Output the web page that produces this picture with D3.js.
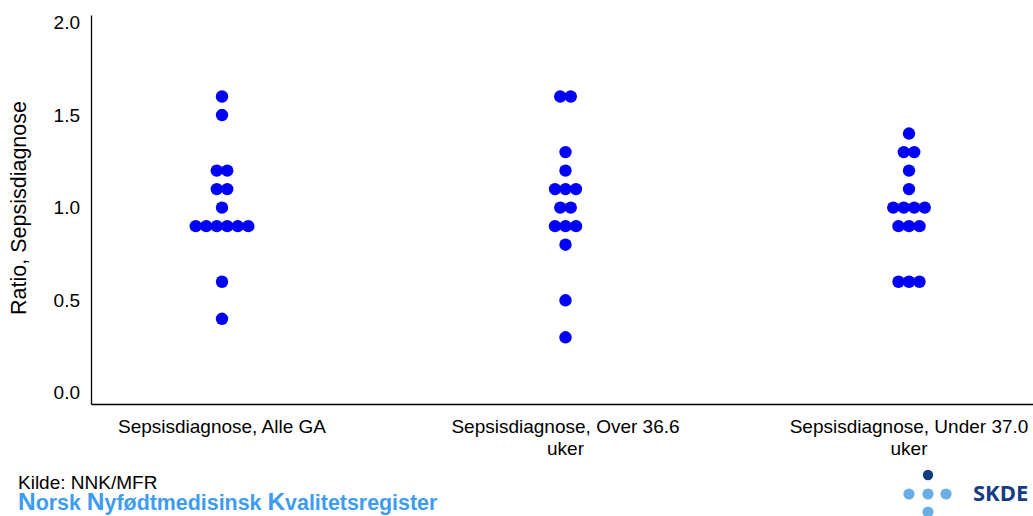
<!DOCTYPE html>
<html>
<head>
<meta charset="utf-8">
<script src="https://cdn.jsdelivr.net/npm/d3@7"></script>
<style>
  html, body { margin: 0; padding: 0; background: #fff; }
  svg { display: block; font-family: Arial, "Liberation Sans", sans-serif; }
</style>
</head>
<body>
<svg id="chart" width="1033" height="516"></svg>
<script>
// Categories (each label is split into lines for the axis)
const categories = ["Sepsisdiagnose, Alle GA", "Sepsisdiagnose, Over 36.6 uker", "Sepsisdiagnose, Under 37.0 uker"];
const categoryLines = [["Sepsisdiagnose, Alle GA"], ["Sepsisdiagnose, Over 36.6", "uker"], ["Sepsisdiagnose, Under 37.0", "uker"]];

// Ratio per unit, one list per category
const alleGA = [1.6, 1.5, 1.2, 1.2, 1.1, 1.1, 1.0, 0.9, 0.9, 0.9, 0.9, 0.9, 0.9, 0.6, 0.4];
const over366 = [1.6, 1.6, 1.3, 1.2, 1.1, 1.1, 1.1, 1.0, 1.0, 0.9, 0.9, 0.9, 0.8, 0.5, 0.3];
const under370 = [1.4, 1.3, 1.3, 1.2, 1.1, 1.0, 1.0, 1.0, 1.0, 0.9, 0.9, 0.9, 0.6, 0.6, 0.6];
const seriesValues = [alleGA, over366, under370];

const yTicks = [0.0, 0.5, 1.0, 1.5, 2.0];

const svg = d3.select("#chart");

const y = d3.scaleLinear().domain([-0.06, 2.04]).range([404, 15]);
const x = d3.scalePoint().domain(categories).range([222, 909]);
const dotStep = 10.5;
const dotR = 6.2;

// Y axis
const yAxis = svg.append("g")
  .attr("transform", "translate(91,0)")
  .call(d3.axisLeft(y).tickValues(yTicks).tickFormat(d3.format(".1f"))
    .tickSizeInner(0).tickSizeOuter(0).tickPadding(11));
yAxis.select(".domain").attr("stroke", "#000").attr("stroke-width", 1.3);
yAxis.selectAll("text").attr("font-size", 19).attr("fill", "#000")
  .attr("font-family", "Arial, 'Liberation Sans', sans-serif");

// X axis line
const xLine = d3.scaleLinear().range([91, 1033]);
const xAxis = svg.append("g")
  .attr("transform", "translate(0,404)")
  .call(d3.axisBottom(xLine).ticks(0).tickSizeOuter(0));
xAxis.select(".domain").attr("stroke", "#000").attr("stroke-width", 1.3);

// Category labels
categories.forEach((c, i) => {
  const t = svg.append("text")
    .attr("x", x(c)).attr("y", 433)
    .attr("text-anchor", "middle")
    .attr("font-size", 19).attr("fill", "#000");
  categoryLines[i].forEach((line, j) => {
    t.append("tspan").attr("x", x(c)).attr("dy", j === 0 ? 0 : 22).text(line);
  });
});

// Y axis title
svg.append("text")
  .attr("transform", "translate(26,208) rotate(-90)")
  .attr("text-anchor", "middle")
  .attr("font-size", 21.5).attr("fill", "#000")
  .text("Ratio, Sepsisdiagnose");

// Dots: equal values are spread side by side, centred on the category
const dots = [];
categories.forEach((c, i) => {
  const groups = d3.group(seriesValues[i], v => v);
  groups.forEach((vals, v) => {
    vals.forEach((_, k) => {
      dots.push({ cat: c, value: v, offset: (k - (vals.length - 1) / 2) * dotStep });
    });
  });
});
svg.append("g").selectAll("circle").data(dots).join("circle")
  .attr("cx", d => x(d.cat) + d.offset)
  .attr("cy", d => y(d.value))
  .attr("r", dotR)
  .attr("fill", "#0000f5");

// Footer: source
svg.append("text")
  .attr("x", 18).attr("y", 489)
  .attr("font-size", 19).attr("fill", "#000")
  .text("Kilde: NNK/MFR");

// Footer: registry name with enlarged initials
const reg = svg.append("text")
  .attr("x", 18).attr("y", 510)
  .attr("font-weight", "bold").attr("fill", "#3d9cf0");
[["N", 24.5], ["orsk ", 21.4], ["N", 24.5], ["yfødtmedisinsk ", 21.4], ["K", 24.5], ["valitetsregister", 21.4]]
  .forEach(([s, fs]) => reg.append("tspan").attr("font-size", fs).text(s));

// SKDE logo
const logo = svg.append("g");
logo.append("circle").attr("cx", 928).attr("cy", 475).attr("r", 5.2).attr("fill", "#163d82");
[909, 928, 946].forEach(cx =>
  logo.append("circle").attr("cx", cx).attr("cy", 494).attr("r", 5.6).attr("fill", "#6aaee6"));
logo.append("circle").attr("cx", 928).attr("cy", 512).attr("r", 5.6).attr("fill", "#6aaee6");
logo.append("text")
  .attr("x", 973).attr("y", 501)
  .attr("font-size", 22).attr("font-weight", "bold").attr("fill", "#163d82")
  .attr("font-family", "'Open Sans', Arial, sans-serif")
  .text("SKDE");
</script>
</body>
</html>
